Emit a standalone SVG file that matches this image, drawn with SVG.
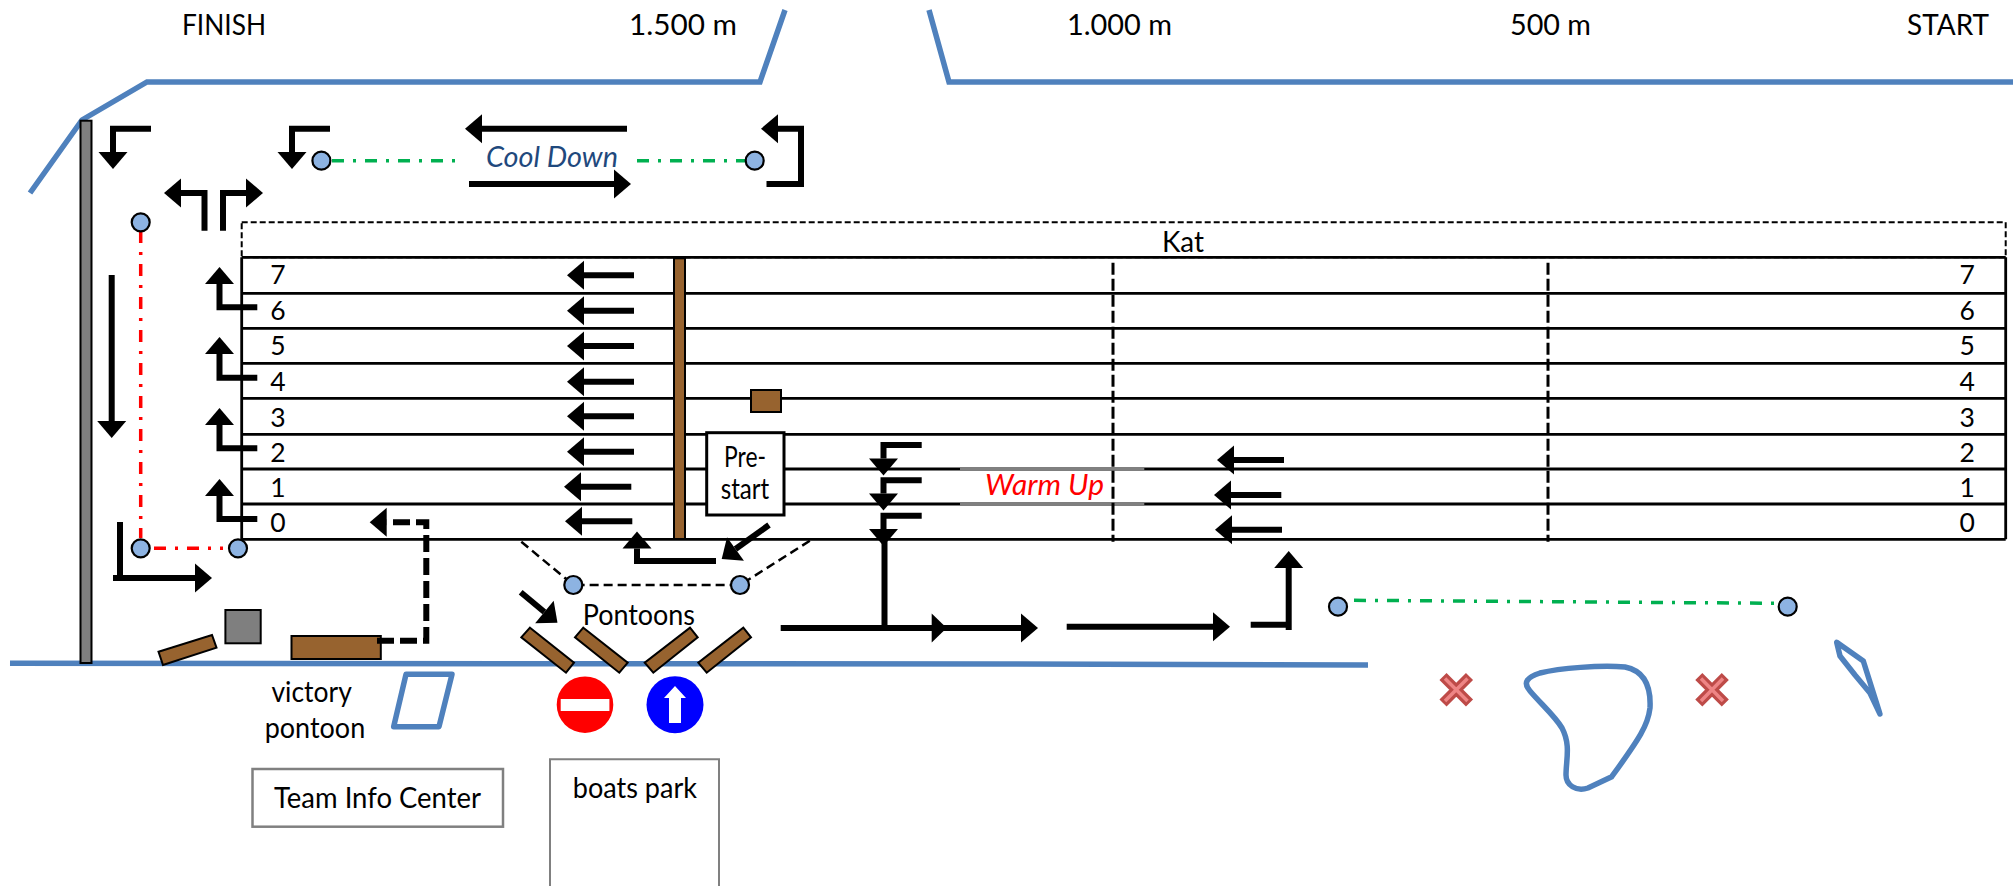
<svg xmlns="http://www.w3.org/2000/svg" width="2013" height="886" viewBox="0 0 2013 886">
<style>
text{font-family:"Lato","Carlito","Liberation Sans",sans-serif;font-size:28px;fill:#000}
.num{font-size:26.5px}
.shore{fill:none;stroke:#4F81BD;stroke-width:5.5}
.lane{stroke:#000;stroke-width:2.8;fill:none}
.mark{stroke:#000;stroke-width:3;stroke-dasharray:12 4;fill:none}
.ar{fill:none;stroke:#000;stroke-width:6;marker-end:url(#h)}
.ln{fill:none;stroke:#000;stroke-width:6}
.dash{fill:none;stroke:#000;stroke-width:2.5;stroke-dasharray:9 5}
.green{fill:none;stroke:#00B050;stroke-width:3.5;stroke-dasharray:12 9 3 9}
.red{fill:none;stroke:#F00;stroke-width:3.5;stroke-dasharray:12 9 3 9}
.dot{fill:#8DB3E2;stroke:#000;stroke-width:2.2}
.wood{fill:#97632F;stroke:#000;stroke-width:2}
.gray{fill:#7F7F7F;stroke:#000;stroke-width:2}
.box{fill:#fff;stroke:#808080;stroke-width:2.5}
.xd{stroke:#BE4B48;stroke-width:10;fill:none}
.xl{stroke:#EE8585;stroke-width:3.5;fill:none}
</style>
<defs>
<marker id="h" markerUnits="userSpaceOnUse" markerWidth="18" markerHeight="29" refX="0" refY="14.5" orient="auto" overflow="visible"><path d="M0,0L17,14.5L0,29Z" fill="#000"/></marker>
</defs>

<g id="shoreline">
<path class="shore" d="M30,193L82,120L147,82H760L785,10"/>
<path class="shore" d="M929,10L949,82H2013"/>
<path class="shore" d="M10,663.3L1000,664L1368,665"/>
</g>

<g id="distance-labels">
<text x="182" y="34.5" textLength="84" lengthAdjust="spacingAndGlyphs">FINISH</text>
<text x="629" y="34.5" textLength="108" lengthAdjust="spacingAndGlyphs">1.500 m</text>
<text x="1067" y="34.5" textLength="105" lengthAdjust="spacingAndGlyphs">1.000 m</text>
<text x="1510" y="34.5" textLength="81" lengthAdjust="spacingAndGlyphs">500 m</text>
<text x="1907" y="34.5" textLength="82" lengthAdjust="spacingAndGlyphs">START</text>
</g>

<g id="course">
<rect x="241.7" y="222.3" width="1764" height="35" fill="#fff" stroke="#000" stroke-width="2" stroke-dasharray="6 3"/>
<text x="1162" y="251.5" textLength="42" lengthAdjust="spacingAndGlyphs">Kat</text>
<path class="lane" d="M241.7,257.3H2005.7M241.7,293.3H2005.7M241.7,328.3H2005.7M241.7,363.3H2005.7M241.7,398.3H2005.7M241.7,434.3H2005.7M241.7,469H2005.7M241.7,504H2005.7M241.7,539.3H2005.7M241.7,257.3V539.3M2005.7,257.3V539.3"/>
<path d="M960,469H1144.3M960,504H1144.3" stroke="#808080" stroke-width="3.5" fill="none"/>
<path class="mark" d="M1113,262.7V541.7M1548,262.7V541.7"/>
<g id="lane-numbers-left" text-anchor="middle">
<text class="num" x="278" y="284">7</text><text class="num" x="278" y="320">6</text><text class="num" x="278" y="355">5</text><text class="num" x="278" y="390.7">4</text><text class="num" x="278" y="426.7">3</text><text class="num" x="278" y="461.7">2</text><text class="num" x="278" y="496.7">1</text><text class="num" x="278" y="531.7">0</text>
</g>
<g id="lane-numbers-right" text-anchor="middle">
<text class="num" x="1967.3" y="284">7</text><text class="num" x="1967.3" y="320">6</text><text class="num" x="1967.3" y="355">5</text><text class="num" x="1967.3" y="390.7">4</text><text class="num" x="1967.3" y="426.7">3</text><text class="num" x="1967.3" y="461.7">2</text><text class="num" x="1967.3" y="496.7">1</text><text class="num" x="1967.3" y="531.7">0</text>
</g>
</g>

<g id="tower-post"><rect class="wood" x="674" y="258.3" width="11" height="280.7"/></g>
<g id="small-block"><rect class="wood" x="751" y="390" width="30" height="22"/></g>
<g id="pre-start">
<rect x="706.7" y="432.7" width="77.3" height="82.3" fill="#fff" stroke="#000" stroke-width="3"/>
<text x="724" y="467" textLength="42" lengthAdjust="spacingAndGlyphs">Pre-</text>
<text x="720.7" y="499" textLength="48.6" lengthAdjust="spacingAndGlyphs">start</text>
</g>
<g id="warm-up"><text x="985" y="495" textLength="119" lengthAdjust="spacingAndGlyphs" font-style="italic" style="fill:#F00">Warm Up</text></g>
<g id="cool-down"><text x="486" y="166.7" textLength="132" lengthAdjust="spacingAndGlyphs" font-style="italic" style="fill:#1F497D">Cool Down</text></g>

<g id="wall"><rect class="gray" x="80.5" y="120.7" width="11" height="542.3"/></g>
<g id="tower"><rect class="gray" x="225.4" y="610" width="35.3" height="33.3"/></g>
<g id="pontoon-slanted"><polygon class="wood" points="158.5,651.7 212,635 216.5,647.7 163,665"/></g>
<g id="pontoon-wide"><rect class="wood" x="291.5" y="636" width="89.3" height="23"/></g>
<g id="pontoon-1"><polygon class="wood" points="530,627.7 574,662.7 566,672.7 521.3,637.3"/></g>
<g id="pontoon-2"><polygon class="wood" points="583.3,627.7 627.7,662.7 619.3,672.7 575,637.3"/></g>
<g id="pontoon-3"><polygon class="wood" points="690,627.7 697.7,637.3 653.3,672.7 644.7,662.7"/></g>
<g id="pontoon-4"><polygon class="wood" points="743.3,627.7 751,637.3 706.7,672.7 698.3,662.7"/></g>
<g id="victory-pontoon">
<polygon class="shore" points="406,674.3 452,674.3 439,726.7 393.7,726.7" style="stroke-linejoin:round"/>
<text x="271.4" y="702" textLength="80.4" lengthAdjust="spacingAndGlyphs">victory</text>
<text x="264.7" y="738" textLength="100.5" lengthAdjust="spacingAndGlyphs">pontoon</text>
</g>
<g id="pontoons-label"><text x="582.7" y="625" textLength="112.3" lengthAdjust="spacingAndGlyphs">Pontoons</text></g>
<g id="no-entry"><circle cx="585" cy="704.7" r="28.3" fill="#F00"/><rect x="560.7" y="699" width="48.7" height="12" fill="#fff"/></g>
<g id="ahead-only"><circle cx="675" cy="704.7" r="28.5" fill="#00F"/><polygon points="675,686 686,698 681,698 681,723 669,723 669,698 664,698" fill="#fff"/></g>
<g id="team-info"><rect class="box" x="252.5" y="769" width="250.5" height="57.7"/><text x="274" y="808" textLength="207" lengthAdjust="spacingAndGlyphs">Team Info Center</text></g>
<g id="boats-park"><path d="M550,890V759.3H719V890" fill="#fff" stroke="#808080" stroke-width="2"/><text x="572.8" y="798" textLength="124.2" lengthAdjust="spacingAndGlyphs">boats park</text></g>

<g id="connectors">
<path class="ar" d="M151,128.7H113V152"/>
<path class="ar" d="M330,128.7H292V152"/>
<path class="ar" d="M627,128.7H482"/>
<path class="ar" d="M469,184H614"/>
<path class="ar" d="M204.5,230.7V193H181"/>
<path class="ar" d="M223,230.7V193H246"/>
<path class="ar" d="M766.5,184H801V128.7H778"/>
<path class="ar" d="M111.7,275V421"/>
<path class="ln" d="M120,522V580"/>
<path class="ar" d="M113,578H195"/>
<path class="ar" d="M257.3,307.3H219.5V284"/>
<path class="ar" d="M257.3,377.7H219.5V354"/>
<path class="ar" d="M257.3,448.3H219.5V425"/>
<path class="ar" d="M257.3,519H219.5V496"/>
<path class="ar" d="M634,275.3H584"/>
<path class="ar" d="M634,310.7H584"/>
<path class="ar" d="M634,346H584"/>
<path class="ar" d="M634,381.7H584"/>
<path class="ar" d="M634,416.3H584"/>
<path class="ar" d="M634,451.7H584"/>
<path class="ar" d="M631.3,486.7H581"/>
<path class="ar" d="M632.3,521.3H582"/>
<path class="ar" d="M716,561H637V548.5"/>
<path class="ar" d="M769,525L735.5,549"/>
<path class="ar" d="M520.7,592.3L544.4,612"/>
<path class="ar" d="M921.7,445H883.5V458.5"/>
<path class="ar" d="M921.7,480.3H883.5V493.5"/>
<path class="ar" d="M921.7,515.7H883.5V529"/>
<path class="ln" d="M884.5,540V628"/>
<path class="ar" d="M780.7,628H1021"/>
<polygon points="931.7,613.5 946.7,628 931.7,642.5" fill="#000"/>
<path class="ar" d="M1066.7,626.7H1213"/>
<path class="ln" d="M1250.7,624.7H1291"/>
<path class="ar" d="M1288.7,630V568"/>
<path class="ar" d="M1284,460H1234"/>
<path class="ar" d="M1281.3,495H1231"/>
<path class="ar" d="M1282,529.7H1232"/>
<path class="ar" style="stroke-dasharray:17 6" d="M377,640.7H426.3V522.3H386.7"/>
<path class="dash" d="M521.3,541.7L573.3,585H740L812.7,539"/>
<path class="green" d="M332,160.7H455"/>
<path class="green" d="M637,160.7H745"/>
<path class="green" d="M1354,600.3L1778,603.3"/>
<path class="red" d="M140.7,231V538"/>
<path class="red" d="M154,548.3H223"/>
</g>

<g id="buoy-1"><circle class="dot" cx="321.4" cy="160.7" r="9"/></g>
<g id="buoy-2"><circle class="dot" cx="754.7" cy="160.7" r="9"/></g>
<g id="buoy-3"><circle class="dot" cx="140.7" cy="222.3" r="9"/></g>
<g id="buoy-4"><circle class="dot" cx="140.7" cy="548.3" r="9"/></g>
<g id="buoy-5"><circle class="dot" cx="238" cy="548.3" r="9"/></g>
<g id="buoy-6"><circle class="dot" cx="573.3" cy="585" r="9"/></g>
<g id="buoy-7"><circle class="dot" cx="740" cy="585" r="9"/></g>
<g id="buoy-8"><circle class="dot" cx="1338" cy="606.7" r="9"/></g>
<g id="buoy-9"><circle class="dot" cx="1787.7" cy="606.7" r="9"/></g>

<g id="cross-1"><path class="xd" d="M1443,676.5L1469.5,703M1469.5,676.5L1443,703"/><path class="xl" d="M1445,678.5L1467.5,701M1467.5,678.5L1445,701"/></g>
<g id="cross-2"><path class="xd" d="M1698.8,676.5L1725.3,703M1725.3,676.5L1698.8,703"/><path class="xl" d="M1701,678.5L1723,701M1723,678.5L1701,701"/></g>
<g id="island-1"><path class="shore" d="M1530,691C1522,682 1528,677 1540,673C1560,668 1600,665 1625,667C1645,671 1651,688 1650,708C1648,725 1640,738 1611.7,776.7L1588,788C1576,792 1566,785 1566,775C1566,760 1571,745 1562,728C1555,716 1541,704 1530,691Z"/></g>
<g id="island-2"><path class="shore" style="stroke-linecap:round;stroke-linejoin:round" d="M1880,714L1863.3,661L1836.7,642.3L1840,656L1855,675L1870,693Z"/></g>
</svg>
